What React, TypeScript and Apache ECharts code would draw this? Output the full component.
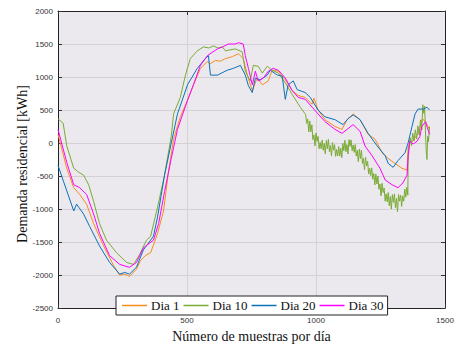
import React, { useEffect, useRef } from "react";
import * as echarts from "echarts";

// Residential demand per sample of the day, [sample index, kWh]
const dia1: [number, number][] = [
  [0, 132], [34, -382], [61, -676], [84, -779], [111, -926], [138, -1221], [177, -1559],
  [215, -1853], [239, -2000], [258, -1985], [277, -2020], [304, -1912], [320, -1780],
  [340, -1700], [359, -1662], [386, -1368], [409, -1029], [428, -441], [448, 59], [474, 397],
  [502, 647], [525, 882], [552, 1132], [579, 1235], [590, 1200], [610, 1250], [630, 1240],
  [649, 1279], [676, 1309], [699, 1353], [718, 1279], [734, 1029], [753, 794], [772, 985],
  [792, 882], [815, 941], [830, 1103], [854, 1088], [881, 956], [908, 794], [931, 721],
  [958, 691], [985, 588], [992, 680], [1008, 500], [1035, 353], [1074, 250], [1101, 206],
  [1120, 353], [1144, 441], [1171, 353], [1202, 132], [1229, 59], [1256, -147], [1280, -235],
  [1306, -309], [1333, -382], [1353, -412], [1357, -74], [1364, 29], [1376, 29], [1392, 132],
  [1403, 206], [1410, 353], [1418, 353], [1430, 279], [1440, 206],
];

const dia10: [number, number][] = [
  [0, 368], [20, 300], [34, -44], [61, -382], [80, -441], [99, -485], [119, -632], [138, -882],
  [161, -1221], [188, -1471], [227, -1662], [266, -1809], [293, -1838], [316, -1691],
  [343, -1471], [359, -1412], [386, -971], [413, -485], [439, 103], [448, 441], [474, 691],
  [494, 1029], [513, 1279], [540, 1397], [564, 1456], [585, 1440], [602, 1471], [620, 1440],
  [637, 1456], [649, 1397], [687, 1426], [714, 1382], [726, 1088], [745, 941], [757, 1176],
  [776, 1162], [792, 1059], [811, 1162], [830, 1103], [854, 1059], [881, 912], [908, 735],
  [939, 544], [960, 430], [964, 296], [968, 362], [972, 168], [976, 334], [980, 170],
  [984, 276], [988, 52], [992, 122], [996, -43], [1000, 152], [1004, 26], [1008, 101],
  [1012, -85], [1016, 10], [1020, -87], [1024, 47], [1028, -110], [1032, -7], [1036, -164],
  [1040, 40], [1044, -87], [1048, 56], [1052, -131], [1056, -37], [1060, -194], [1064, 9],
  [1068, -108], [1072, -24], [1076, -201], [1080, -98], [1084, -195], [1088, -54],
  [1092, -197], [1096, -79], [1100, -221], [1104, -4], [1108, -116], [1112, 41],
  [1116, -131], [1120, -23], [1124, -166], [1128, 52], [1132, -50], [1136, 47],
  [1140, -115], [1144, -28], [1148, -141], [1152, -24], [1156, -197], [1160, -110],
  [1164, -282], [1168, -94], [1172, -236], [1176, -108], [1180, -310], [1184, -231],
  [1188, -403], [1192, -215], [1196, -347], [1200, -278], [1204, -470], [1208, -382],
  [1212, -494], [1216, -376], [1220, -548], [1224, -461], [1228, -634], [1232, -470],
  [1236, -620], [1240, -500], [1244, -700], [1248, -620], [1252, -800], [1256, -610],
  [1260, -750], [1264, -680], [1268, -880], [1272, -770], [1276, -890], [1280, -750],
  [1284, -950], [1288, -810], [1292, -1000], [1296, -780], [1300, -900], [1304, -770],
  [1308, -980], [1312, -840], [1316, -1040], [1320, -780], [1324, -880], [1328, -790],
  [1332, -960], [1336, -800], [1340, -880], [1344, -700], [1348, -820], [1352, -670],
  [1356, -790], [1357, -294], [1360, -100], [1365, 80], [1370, -40], [1375, 150], [1380, 30],
  [1385, 200], [1390, 60], [1395, 260], [1400, 120], [1405, 350], [1410, 200], [1414, 580],
  [1418, 450], [1421, 560], [1424, 200], [1427, -100], [1430, -250], [1433, 100], [1436, 20],
  [1440, 250],
];

const dia20: [number, number][] = [
  [0, -338], [22, -588], [61, -1029], [72, -926], [99, -1074], [123, -1265], [161, -1559],
  [200, -1809], [239, -1985], [258, -1960], [277, -1985], [304, -1882], [331, -1618],
  [370, -1412], [386, -1118], [413, -485], [439, 0], [463, 441], [502, 882], [540, 1132],
  [571, 1279], [583, 1324], [591, 1029], [618, 1029], [656, 1103], [680, 1132], [707, 1176],
  [726, 1029], [738, 868], [753, 765], [765, 985], [784, 956], [811, 1029], [823, 1103],
  [850, 1029], [869, 1015], [881, 662], [892, 882], [912, 941], [927, 809], [958, 765],
  [978, 691], [1008, 500], [1035, 397], [1074, 353], [1105, 279], [1124, 368], [1144, 426],
  [1171, 353], [1202, 147], [1237, -44], [1268, -191], [1280, -309], [1299, -368],
  [1318, -265], [1345, -147], [1357, 0], [1372, 250], [1384, 441], [1396, 515], [1418, 515],
  [1430, 544], [1440, 500],
];

const dia30: [number, number][] = [
  [0, 206], [34, -294], [61, -632], [84, -676], [111, -779], [138, -1074], [161, -1368],
  [200, -1706], [239, -1838], [277, -1882], [304, -1809], [331, -1588], [370, -1471],
  [390, -1221], [413, -735], [439, -235], [463, 206], [502, 647], [525, 882], [552, 1176],
  [579, 1324], [618, 1426], [640, 1460], [660, 1500], [687, 1500], [700, 1520], [718, 1500],
  [726, 1324], [738, 1132], [753, 882], [765, 1088], [776, 941], [796, 985], [815, 1088],
  [834, 1132], [854, 1103], [881, 985], [908, 794], [931, 691], [958, 662], [985, 544],
  [1008, 441], [1035, 324], [1074, 206], [1101, 147], [1120, 206], [1144, 279], [1171, 176],
  [1190, -44], [1217, -191], [1248, -382], [1268, -559], [1295, -632], [1318, -676],
  [1337, -603], [1353, -485], [1357, -191], [1364, 29], [1376, -15], [1392, 29], [1403, 103],
  [1410, 250], [1425, 324], [1430, 250], [1440, 132],
];

const seriesNames = ["Dia 1", "Dia 10", "Dia 20", "Dia 30"];
const seriesColors = ["#f98c1c", "#7aab34", "#0a72ba", "#ff00ff"];
const seriesData = [dia1, dia10, dia20, dia30];

const serif = "'Liberation Serif', 'DejaVu Serif', serif";
const sans = "'Liberation Sans', Arial, sans-serif";

export default function App() {
  const ref = useRef<HTMLDivElement>(null);

  useEffect(() => {
    if (!ref.current) return;
    const chart = echarts.init(ref.current, null, { renderer: "svg" });

    const axisLine = { show: true, onZero: false, lineStyle: { color: "#222", width: 1 } };
    const tick = { show: true, inside: true, length: 4, lineStyle: { color: "#333" } };
    const plain = (v: number) => String(v);

    chart.setOption({
      animation: false,
      backgroundColor: "#ffffff",
      grid: {
        left: 58,
        right: 12,
        top: 11,
        bottom: 31,
        show: true,
        backgroundColor: "#ebe9ee",
        borderWidth: 0,
      },
      // vertical title of the demand axis
      graphic: [
        {
          type: "text",
          x: 22,
          y: 164,
          rotation: Math.PI / 2,
          style: {
            text: "Demanda residencial [kWh]",
            fontFamily: serif,
            fontSize: 14,
            fill: "#111",
            align: "center",
            verticalAlign: "middle",
          },
        },
      ],
      legend: {
        data: seriesNames,
        left: 116,
        top: 296,
        orient: "horizontal",
        icon: "rect",
        itemWidth: 25,
        itemHeight: 1.5,
        itemGap: 4,
        padding: [3, 4, 3, 6],
        backgroundColor: "#ffffff",
        borderColor: "#222",
        borderWidth: 1,
        borderRadius: 0,
        textStyle: { fontFamily: serif, fontSize: 13, color: "#111", padding: [0, 0, 0, -1] },
      },
      xAxis: [
        {
          type: "value",
          min: 0,
          max: 1500,
          interval: 500,
          position: "bottom",
          axisLine,
          axisTick: tick,
          axisLabel: { fontFamily: sans, fontSize: 8, color: "#333", margin: 8, formatter: plain },
          splitLine: { show: true, lineStyle: { color: "#d3d1d5", width: 1 } },
          name: "Número de muestras por día",
          nameLocation: "middle",
          nameGap: 19,
          nameTextStyle: { fontFamily: serif, fontSize: 14, color: "#111" },
        },
        {
          type: "value",
          min: 0,
          max: 1500,
          interval: 500,
          position: "top",
          axisLine,
          axisTick: tick,
          axisLabel: { show: false },
          splitLine: { show: false },
        },
      ],
      yAxis: [
        {
          type: "value",
          min: -2500,
          max: 2000,
          interval: 500,
          position: "left",
          axisLine,
          axisTick: tick,
          axisLabel: { fontFamily: sans, fontSize: 8, color: "#333", margin: 5, formatter: plain },
          splitLine: { show: true, lineStyle: { color: "#d3d1d5", width: 1 } },
        },
        {
          type: "value",
          min: -2500,
          max: 2000,
          interval: 500,
          position: "right",
          axisLine,
          axisTick: tick,
          axisLabel: { show: false },
          splitLine: { show: false },
        },
      ],
      series: seriesData.map((d, i) => ({
        name: seriesNames[i],
        type: "line",
        data: d,
        xAxisIndex: 0,
        yAxisIndex: 0,
        symbol: "none",
        showSymbol: false,
        lineStyle: { color: seriesColors[i], width: 1 },
        itemStyle: { color: seriesColors[i] },
        z: 2 + i,
      })),
    });

    return () => chart.dispose();
  }, []);

  return (
    <div
      ref={ref}
      style={{ position: "absolute", left: 0, top: 0, width: 457, height: 348 }}
    />
  );
}
